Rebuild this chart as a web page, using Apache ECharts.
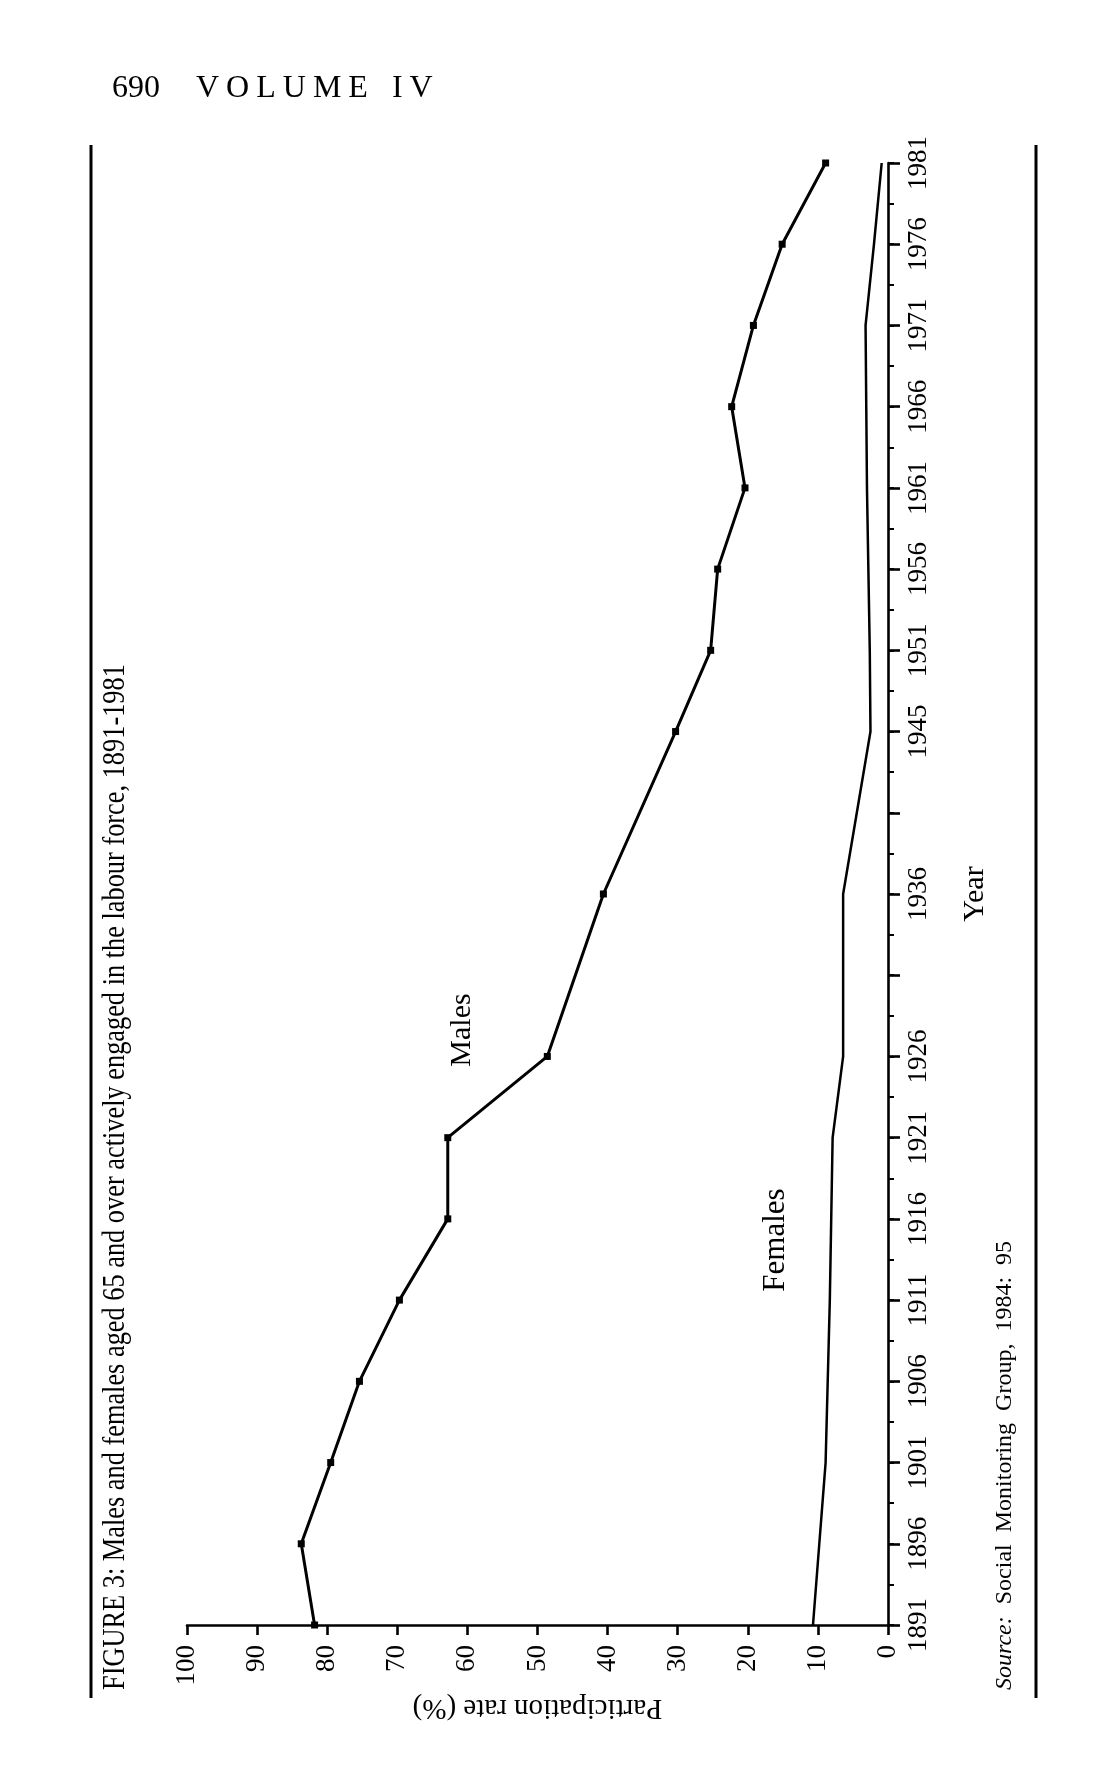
<!DOCTYPE html>
<html>
<head>
<meta charset="utf-8">
<script src="https://cdn.jsdelivr.net/npm/echarts@6/dist/echarts.min.js"></script>
<style>
html,body{margin:0;padding:0;background:#fff;}
#chart{position:absolute;left:0;top:0;width:1114px;height:1779px;}
#header{position:absolute;left:112px;top:68px;font-family:'Liberation Serif',serif;font-size:32px;color:#000;white-space:nowrap;}
#header .sp{letter-spacing:7px;}
</style>
</head>
<body>
<div id="chart"></div>
<div id="header">690<span class="sp" style="margin-left:36px;">VOLUME</span><span class="sp" style="margin-left:17px;">IV</span></div>
<script>
// Years with observations
const years = [1891,1896,1901,1906,1911,1916,1921,1926,1936,1945,1951,1956,1961,1966,1971,1976,1981];
// Participation rates (%)
const males   = [81.8,83.7,79.5,75.4,69.7,62.8,62.8,48.6,40.6,30.3,25.3,24.3,20.4,22.3,19.2,15.1,8.9];
const females = [10.7,9.8,8.9,8.6,8.3,8.1,7.9,6.4,6.4,2.5,2.6,2.8,3.0,3.1,3.2,2.0,0.9];
// Year axis slots (major ticks); blanks are unlabelled major ticks
const yearSlots = ['1891','1896','1901','1906','1911','1916','1921','1926','','1936','','1945','1951','1956','1961','1966','1971','1976','1981'];
// Value-axis tick range
const rateTicks = [0,10,20,30,40,50,60,70,80,90,100];

const titleText = 'FIGURE 3: Males and females aged 65 and over actively engaged in the labour force, 1891-1981';

// half-step slots for minor ticks
const halfSlots = [];
yearSlots.forEach((s,i)=>{ if(i>0) halfSlots.push('h'+i); halfSlots.push('m'+i); });

const slotIndex = y => yearSlots.indexOf(String(y));
const maleData = years.map((y,i)=>[males[i], slotIndex(y)]);
const femaleData = years.map((y,i)=>[females[i], slotIndex(y)]);

const FONT = 'Liberation Serif';
const chart = echarts.init(document.getElementById('chart'));
const option = {
  animation:false,
  backgroundColor:'#fff',
  textStyle:{fontFamily:FONT,color:'#000'},
  grid:{left:187,right:226,top:163,bottom:154},
  xAxis:{
    type:'value',min:rateTicks[0],max:rateTicks[rateTicks.length-1],interval:10,inverse:true,position:'bottom',
    axisLine:{show:true,onZero:false,lineStyle:{color:'#000',width:2.6}},
    axisTick:{show:true,length:10,lineStyle:{color:'#000',width:2.6}},
    axisLabel:{rotate:90,fontSize:27,color:'#000',margin:20,fontFamily:FONT},
    splitLine:{show:false},
    name:'Participation rate (%)',nameLocation:'middle',nameRotate:180,nameGap:52,
    nameTextStyle:{fontSize:29,color:'#000',fontFamily:FONT}
  },
  yAxis:[{
    type:'category',data:yearSlots,boundaryGap:false,position:'right',
    axisLine:{onZero:false,lineStyle:{color:'#000',width:2.6}},
    axisTick:{interval:0,length:12,lineStyle:{color:'#000',width:2.6}},
    axisLabel:{interval:0,rotate:90,fontSize:27,color:'#000',margin:17,fontFamily:FONT},
    splitLine:{show:false},
    name:'Year',nameLocation:'middle',nameGap:72,
    nameTextStyle:{fontSize:30,color:'#000',fontFamily:FONT}
  },{
    type:'category',data:halfSlots,boundaryGap:false,position:'right',
    axisLine:{show:false},
    axisTick:{interval:0,length:6,lineStyle:{color:'#000',width:2}},
    axisLabel:{show:false},splitLine:{show:false}
  }],
  series:[{
    name:'Males',type:'line',yAxisIndex:0,data:maleData,
    symbol:'rect',symbolSize:7,showAllSymbol:true,
    lineStyle:{color:'#000',width:3},itemStyle:{color:'#000'}
  },{
    name:'Females',type:'line',yAxisIndex:0,data:femaleData,
    symbol:'none',
    lineStyle:{color:'#000',width:2.5}
  }],
  graphic:[
    {type:'line',shape:{x1:91,y1:145,x2:91,y2:1698},style:{stroke:'#000',lineWidth:3}},
    {type:'line',shape:{x1:1036,y1:145,x2:1036,y2:1698},style:{stroke:'#000',lineWidth:3}},
    {type:'text',x:116,y:1690,rotation:Math.PI/2,scaleX:0.85,style:{text:titleText,fontSize:31,fontFamily:FONT,fill:'#000',align:'left',verticalAlign:'middle'}},
    {type:'text',x:1005,y:1690,rotation:Math.PI/2,style:{
      text:'{i|Source:}  Social  Monitoring  Group,  1984:  95',
      fontSize:24,fontFamily:FONT,fill:'#000',align:'left',verticalAlign:'middle',
      rich:{i:{fontStyle:'italic',fontSize:24,fontFamily:FONT,fill:'#000'}}}},
    {type:'text',x:462,y:1030,rotation:Math.PI/2,style:{text:'Males',fontSize:30,fontFamily:FONT,fill:'#000',align:'center',verticalAlign:'middle'}},
    {type:'text',x:776,y:1240,rotation:Math.PI/2,style:{text:'Females',fontSize:31,fontFamily:FONT,fill:'#000',align:'center',verticalAlign:'middle'}}
  ]
};
chart.setOption(option);
</script>
</body>
</html>
